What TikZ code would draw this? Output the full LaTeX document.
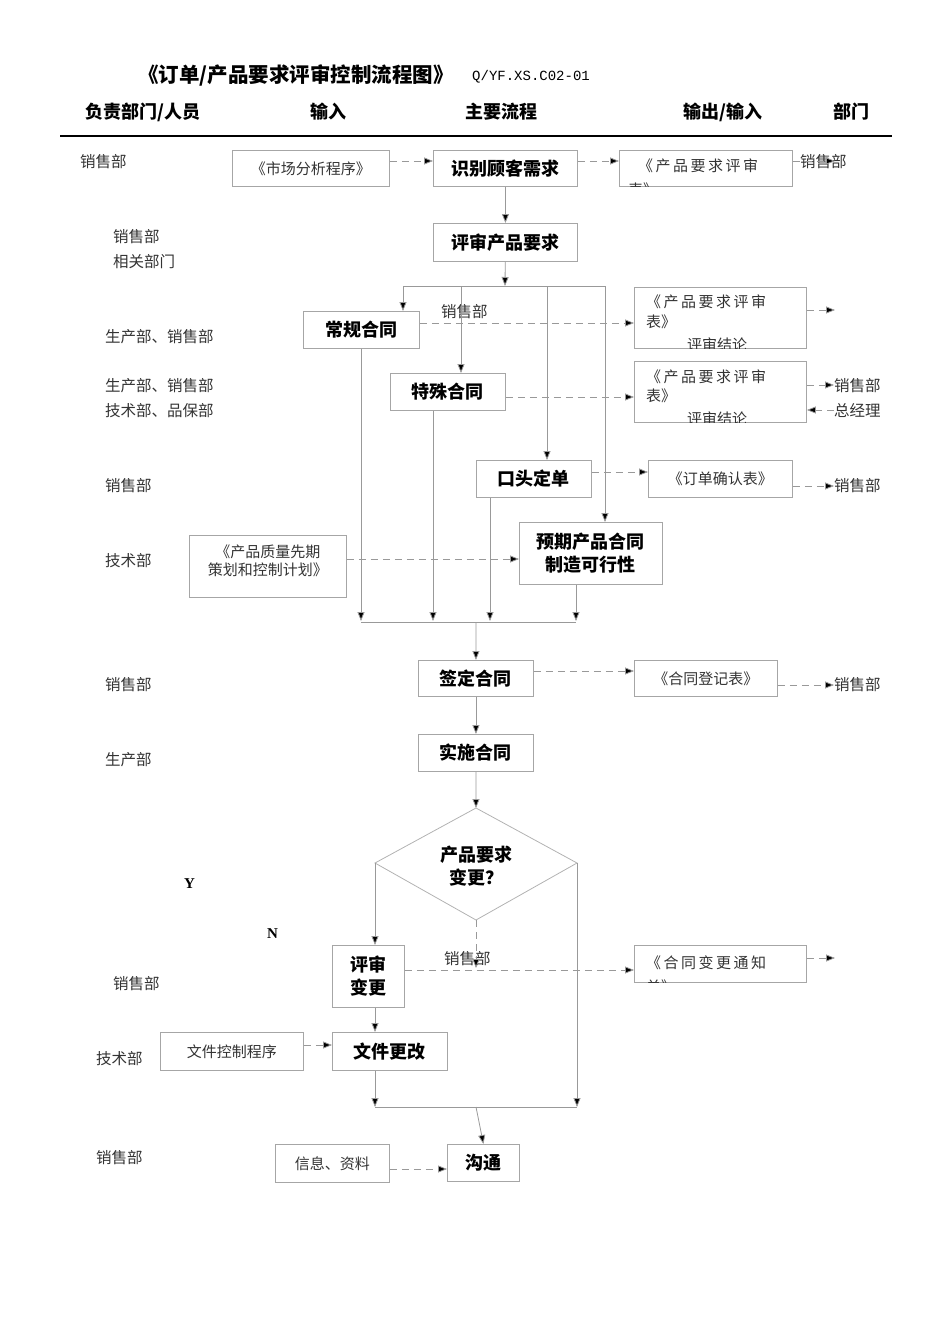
\documentclass[tikz,border=0pt]{standalone}
\usepackage{fontspec}
\setmainfont{Noto Sans CJK SC}
\newfontfamily\monof{Liberation Mono}
\newfontfamily\serf{Liberation Serif}
\usetikzlibrary{arrows.meta}
\begin{document}
\begin{tikzpicture}[x=1pt,y=-1pt,
  box/.style={draw=black!35,line width=0.9pt,inner sep=0pt,anchor=north west},
  pbox/.style={box,font=\fontsize{18}{21}\selectfont\bfseries},
  ibox/.style={box,font=\fontsize{15}{18}\selectfont,text=black!80},
  lab/.style={font=\fontsize{15.5}{18}\selectfont,text=black!80,anchor=west,inner sep=0pt},
  hd/.style={font=\fontsize{18}{21}\selectfont\bfseries,inner sep=0pt},
  ln/.style={draw=black!40,line width=0.8pt},
  arr/.style={ln,-{Triangle[length=9pt,width=7pt,fill=black]}},
  darr/.style={arr,dash pattern=on 7pt off 5pt},
  dln/.style={ln,dash pattern=on 7pt off 5pt}]
\useasboundingbox (0,0) rectangle (950,1344);
% title
\node[anchor=west,inner sep=0pt,font=\fontsize{20.5}{24}\selectfont\bfseries] (title) at (138,75) {《订单/产品要求评审控制流程图》};
\node[anchor=west,inner sep=0pt,font=\monof\fontsize{14}{16}\selectfont] (code) at (472,77) {Q/YF.XS.C02-01};
\node[hd] (h1) at (143,112) {负责部门/人员};
\node[hd] (h2) at (328,112) {输入};
\node[hd] (h3) at (501,112) {主要流程};
\node[hd] (h4) at (723,112) {输出/输入};
\node[hd] (h5) at (851,112) {部门};
\coordinate (hl1) at (60,136); \coordinate (hl2) at (892,136);
\draw[line width=1.5pt] (hl1) -- (hl2);
% left labels
\node[lab] (l1) at (80,162) {销售部};
\node[lab] (l2) at (113,237) {销售部};
\node[lab] (l3) at (113,262) {相关部门};
\node[lab] (l4) at (105,337) {生产部、销售部};
\node[lab] (l5) at (105,386) {生产部、销售部};
\node[lab] (l6) at (105,411) {技术部、品保部};
\node[lab] (l7) at (105,486) {销售部};
\node[lab] (l8) at (105,561) {技术部};
\node[lab] (l9) at (105,685) {销售部};
\node[lab] (l10) at (105,760) {生产部};
\node[lab,text=black,font=\serf\bfseries\fontsize{15}{18}\selectfont] (ly) at (184,884) {Y};
\node[lab,text=black,font=\serf\bfseries\fontsize{15}{18}\selectfont] (lnn) at (267,934) {N};
\node[lab] (l11) at (113,984) {销售部};
\node[lab] (l12) at (96,1059) {技术部};
\node[lab] (l13) at (96,1158) {销售部};
% process boxes
\node[pbox,minimum width=144,minimum height=36] (p1) at (433,150) {识别顾客需求};
\node[pbox,minimum width=144,minimum height=38] (p2) at (433,223) {评审产品要求};
\node[pbox,minimum width=116,minimum height=37] (p3) at (303,311) {常规合同};
\node[pbox,minimum width=115,minimum height=37] (p4) at (390,373) {特殊合同};
\node[pbox,minimum width=115,minimum height=37] (p5) at (476,460) {口头定单};
\node[pbox,minimum width=143,minimum height=62,align=center,font=\fontsize{18}{23}\selectfont\bfseries] (p6) at (519,522) {预期产品合同\\制造可行性};
\node[pbox,minimum width=115,minimum height=36] (p7) at (418,660) {签定合同};
\node[pbox,minimum width=115,minimum height=37] (p8) at (418,734) {实施合同};
\node[pbox,minimum width=72,minimum height=62,align=center,font=\fontsize{18}{23}\selectfont\bfseries] (p9) at (332,945) {评审\\变更};
\node[pbox,minimum width=115,minimum height=38] (p10) at (332,1032) {文件更改};
\node[pbox,minimum width=72,minimum height=37] (p11) at (447,1144) {沟通};
% diamond
\coordinate (dt) at (476,808); \coordinate (dl) at (375,863);
\coordinate (dr) at (577,863); \coordinate (db) at (476,920);
\draw[ln,draw=black!30] (dt) -- (dr) -- (db) -- (dl) -- cycle;
\node[align=center,font=\fontsize{18}{23}\selectfont\bfseries,inner sep=0pt] (dq) at (476,866) {产品要求\\变更？};
% input boxes
\node[ibox,minimum width=157,minimum height=36] (i1) at (232,150) {《市场分析程序》};
\node[ibox,minimum width=157,minimum height=62,align=center,text depth=12pt] (i2) at (189,535) {《产品质量先期\\策划和控制计划》};
\node[ibox,minimum width=143,minimum height=38] (i3) at (160,1032) {文件控制程序};
\node[ibox,minimum width=114,minimum height=38] (i4) at (275,1144) {信息、资料};
% output boxes
\node[box,minimum width=173,minimum height=36] (o1) at (619,150) {};
\node[box,minimum width=172,minimum height=61] (o2) at (634,287) {};
\node[box,minimum width=172,minimum height=61] (o3) at (634,361) {};
\node[ibox,minimum width=144,minimum height=37] (o4) at (648,460) {《订单确认表》};
\node[ibox,minimum width=143,minimum height=36] (o5) at (634,660) {《合同登记表》};
\node[box,minimum width=172,minimum height=37] (o6) at (634,945) {};
\begin{scope}[every node/.style={inner sep=0pt,anchor=west,text=black!80,font=\fontsize{15}{18}\selectfont}]
\begin{scope}\clip (o1.north west) rectangle (o1.south east);
\node (o1a) at (638,166) {《\,产\,品\,要\,求\,评\,审};
\node (o1b) at (628,190) {表》};
\end{scope}
\begin{scope}\clip (o2.north west) rectangle (o2.south east);
\node (o2a) at (646,302) {《\,产\,品\,要\,求\,评\,审};
\node (o2b) at (646,322) {表》};
\node (o2c) at (687,345) {评审结论};
\end{scope}
\begin{scope}\clip (o3.north west) rectangle (o3.south east);
\node (o3a) at (646,377) {《\,产\,品\,要\,求\,评\,审};
\node (o3b) at (646,396) {表》};
\node (o3c) at (687,419) {评审结论};
\end{scope}
\begin{scope}\clip (o6.north west) rectangle (o6.south east);
\node (o6a) at (646,963) {《\,合\,同\,变\,更\,通\,知};
\node (o6b) at (646,987) {单》};
\end{scope}
\end{scope}
% right labels
\node[lab] (r1) at (800,162) {销售部};
\node[lab] (r2) at (834,386) {销售部};
\node[lab] (r3) at (834,411) {总经理};
\node[lab] (r4) at (834,486) {销售部};
\node[lab] (r5) at (834,685) {销售部};
\node[lab] (s1) at (441,312) {销售部};
\node[lab] (s2) at (444,959) {销售部};
% coordinates
\coordinate (a1) at (835,161); \coordinate (a2) at (835,310);
\coordinate (a6) at (835,958);
% flow arrows
\draw[arr] (p1) -- (p2);
\coordinate (br) at (505,286);
\draw[arr] (p2) -- (br);
\coordinate (bl) at (403,286); \coordinate (bR) at (605,286);
\draw[ln] (bl) -- (bR);
\draw[arr] (bl) -- (p3.north -| bl);
\draw[arr] (461,286) -- (p4.north -| 461,0);
\draw[arr] (547,286) -- (p5.north -| 547,0);
\draw[arr] (bR) -- (p6.north -| bR);
\coordinate (c1) at (361,621); \coordinate (c2) at (433,621);
\coordinate (c3) at (490,621); \coordinate (c4) at (576,621);
\draw[arr] (p3.south -| c1) -- (c1);
\draw[arr] (p4.south -| c2) -- (c2);
\draw[arr] (p5.south -| c3) -- (c3);
\draw[arr] (p6.south -| c4) -- (c4);
\draw[ln] (361,622) -- (576,622);
\draw[arr] (476,622) -- (p7.north);
\draw[arr] (p7) -- (p8);
\draw[arr] (p8) -- (dt);
\draw[arr] (dl) -- (p9.north -| dl);
\draw[arr] (p9.south -| dl) -- (p10.north -| dl);
\coordinate (e1) at (375,1107); \coordinate (e2) at (577,1107);
\draw[arr] (p10.south -| e1) -- (e1);
\draw[arr] (dr) -- (e2);
\draw[ln] (e1) -- (e2);
\draw[arr] (476,1107) -- (p11.north);
% dashed
\draw[darr] (i1.east |- 0,161) -- (p1.west |- 0,161);
\draw[darr] (p1.east |- 0,161) -- (o1.west |- 0,161);
\draw[darr] (o1.east |- a1) -- (a1);
\draw[darr] (p3.east |- 0,323) -- (o2.west |- 0,323);
\draw[darr] (o2.east |- a2) -- (a2);
\draw[darr] (p4.east |- 0,397) -- (o3.west |- 0,397);
\draw[darr] (o3.east |- 0,385) -- (r2.west |- 0,385);
\draw[darr] (r3.west |- 0,410) -- (o3.east |- 0,410);
\draw[darr] (p5.east |- 0,472) -- (o4.west |- 0,472);
\draw[darr] (o4.east |- 0,486) -- (r4.west |- 0,486);
\draw[darr] (i2.east |- 0,559) -- (p6.west |- 0,559);
\draw[darr] (p7.east |- 0,671) -- (o5.west |- 0,671);
\draw[darr] (o5.east |- 0,685) -- (r5.west |- 0,685);
\draw[darr] (db) -- (476,968);
\draw[darr] (p9.east |- 0,970) -- (o6.west |- 0,970);
\draw[darr] (o6.east |- a6) -- (a6);
\draw[darr] (i3.east |- 0,1045) -- (p10.west |- 0,1045);
\draw[darr] (i4.east |- 0,1169) -- (p11.west |- 0,1169);
\end{tikzpicture}
\end{document}
